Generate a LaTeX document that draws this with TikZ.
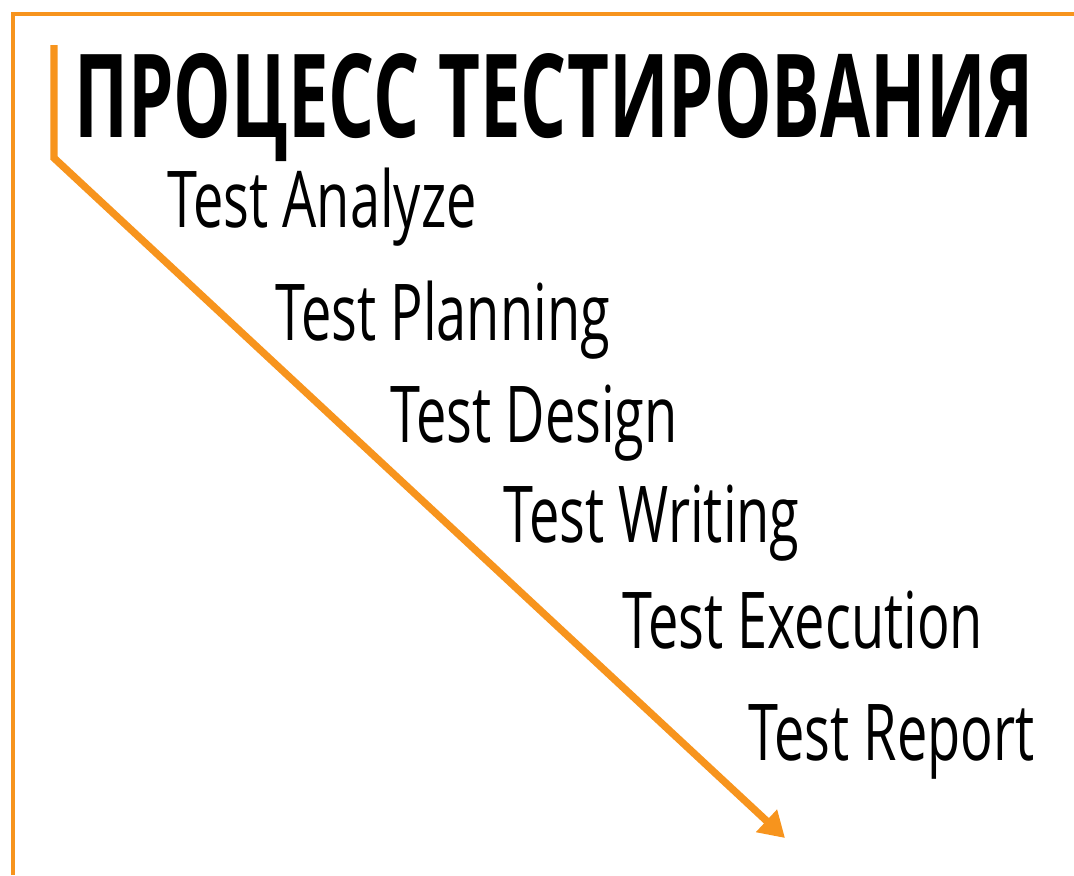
\documentclass[tikz,border=0pt]{standalone}
\usepackage{fontspec}
\setmainfont{Open Sans}
\usetikzlibrary{arrows.meta}
\definecolor{testorange}{HTML}{F7941D}
\tikzset{
  phase/.style={anchor=base west,inner sep=0pt,xscale=0.69,font=\fontsize{58.8pt}{60pt}\selectfont},
  heading/.style={anchor=base west,inner sep=0pt,xscale=0.625,font=\fontsize{87pt}{90pt}\selectfont\bfseries}
}
\begin{document}
\begin{tikzpicture}[x=0.75pt,y=-0.75pt]
\useasboundingbox (0,0) rectangle (1074,875);
\draw[testorange,line width=3pt] (12.5,875) -- (12.5,13.5) -- (1074,13.5);
\coordinate (start) at (54,45);
\coordinate (bend) at (54,158);
\coordinate (tip) at (785,838);
\draw[testorange,line width=5.5pt,-{Triangle[length=19pt,width=22pt]}] (start) -- (bend) -- (tip);
\node[heading] (title) at (74,137) {ПРОЦЕСС ТЕСТИРОВАНИЯ};
\node[phase] (analyze) at (167,227) {Test Analyze};
\node[phase] (planning) at (275,340) {Test Planning};
\node[phase] (design) at (390,442) {Test Design};
\node[phase] (writing) at (503,542) {Test Writing};
\node[phase] (execution) at (622,648) {Test Execution};
\node[phase] (report) at (748,760) {Test Report};
\end{tikzpicture}
\end{document}
